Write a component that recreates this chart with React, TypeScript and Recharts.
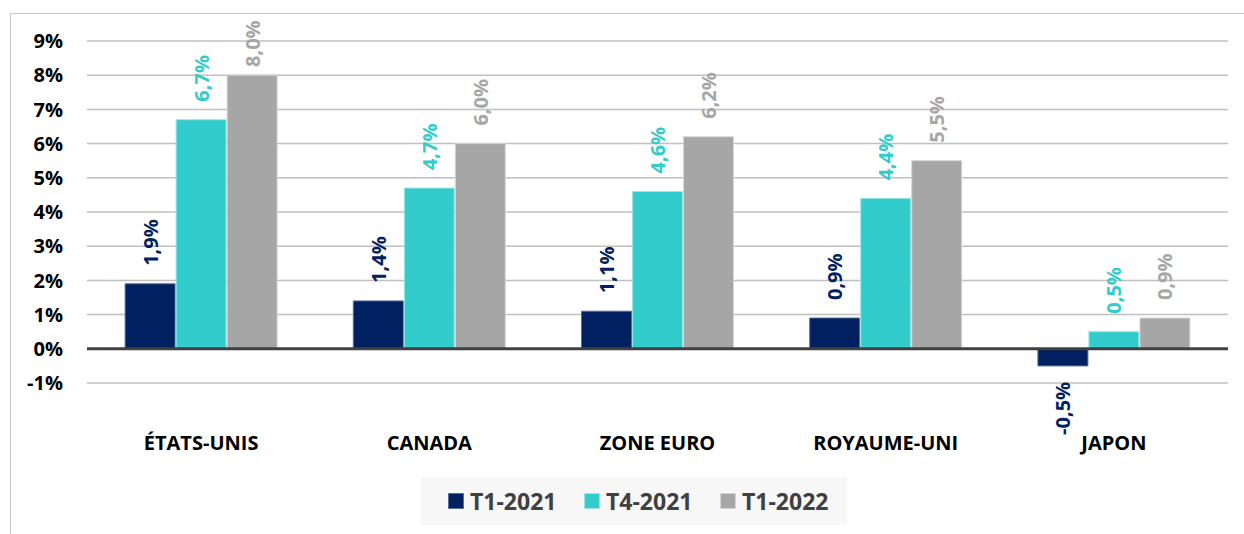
import React from "react";
import { BarChart, Bar, XAxis, YAxis, CartesianGrid, Legend, ReferenceLine } from "recharts";

const pays = ["ÉTATS-UNIS", "CANADA", "ZONE EURO", "ROYAUME-UNI", "JAPON"];
const t1_2021 = [1.9, 1.4, 1.1, 0.9, -0.5];
const t4_2021 = [6.7, 4.7, 4.6, 4.4, 0.5];
const t1_2022 = [8.0, 6.0, 6.2, 5.5, 0.9];
const yTicks = [-1, 0, 1, 2, 3, 4, 5, 6, 7, 8, 9];

const series = [
  { key: "T1-2021", values: t1_2021, fill: "#002060", stroke: "#5a6d96" },
  { key: "T4-2021", values: t4_2021, fill: "#33CCCC", stroke: "#9ee6e6" },
  { key: "T1-2022", values: t1_2022, fill: "#A6A6A6", stroke: "#d6d6d6" },
];

const data = pays.map((p, i) => {
  const row: any = { name: p };
  series.forEach((s) => (row[s.key] = s.values[i]));
  return row;
});

const FONT = "'Open Sans', 'Noto Sans', sans-serif";

const fmt = (v: number) => v.toFixed(1).replace(".", ",") + "%";

function makeLabel(color: string) {
  return (props: any) => {
    const { x, y, width, height, value } = props;
    const cx = Number(x) + Number(width) / 2;
    const top = Math.min(Number(y), Number(y) + Number(height));
    const bottom = Math.max(Number(y), Number(y) + Number(height));
    const neg = Number(value) < 0;
    // keep labels of tall bars inside the frame, like the original
    const ay = neg ? bottom + 16 : Math.max(top - 18, 67);
    return (
      <text
        x={cx}
        y={ay}
        transform={`rotate(-90 ${cx} ${ay})`}
        textAnchor={neg ? "end" : "start"}
        dominantBaseline="central"
        fill={color}
        fontFamily={FONT}
        fontWeight={700}
        fontSize={20}
      >
        {fmt(Number(value))}
      </text>
    );
  };
}

// left offsets of each legend item inside the grey box
const legendOffsets = [27, 163, 299];

function LegendBox() {
  return (
    <div
      style={{
        position: "relative",
        width: 426,
        height: 48,
        background: "#f7f7f7",
        fontFamily: FONT,
        fontWeight: 700,
        fontSize: 23,
        color: "#404040",
        whiteSpace: "nowrap",
      }}
    >
      {series.map((s, i) => (
        <div
          key={s.key}
          style={{
            position: "absolute",
            left: legendOffsets[i],
            top: 0,
            height: 48,
            display: "flex",
            alignItems: "center",
          }}
        >
          <span
            style={{
              display: "inline-block",
              width: 14,
              height: 14,
              background: s.fill,
              border: `1px solid ${s.stroke}`,
              marginRight: 6,
            }}
          />
          <span>{s.key}</span>
        </div>
      ))}
    </div>
  );
}

export default function App() {
  return (
    <div style={{ position: "absolute", left: 0, top: 0, width: 1244, height: 534, background: "#fff", overflow: "hidden" }}>
      <div
        style={{
          position: "absolute",
          left: 10,
          top: 13,
          width: 1300,
          height: 600,
          borderLeft: "1px solid #c8c8c8",
          borderTop: "1px solid #c8c8c8",
        }}
      />
      <div style={{ position: "absolute", left: 0, top: 0 }}>
        <BarChart
          width={1244}
          height={534}
          data={data}
          margin={{ top: 41, right: 16, left: 0, bottom: 9 }}
          barCategoryGap="16.7%"
          barGap={1}
        >
          <CartesianGrid vertical={false} stroke="#c0c0c0" strokeWidth={1.5} />
          <XAxis
            dataKey="name"
            axisLine={false}
            tickLine={false}
            tickSize={0}
            tickMargin={53}
            height={94}
            interval={0}
            tick={{ fill: "#000", fontFamily: FONT, fontWeight: 700, fontSize: 20 }}
          />
          <YAxis
            domain={[-1, 9]}
            ticks={yTicks}
            width={87}
            axisLine={false}
            tickLine={false}
            tickSize={0}
            tickMargin={24}
            tickFormatter={(v: number) => `${v}%`}
            tick={{ fill: "#000", fontFamily: FONT, fontWeight: 700, fontSize: 20 }}
          />
          <ReferenceLine y={0} stroke="#404040" strokeWidth={3} />
          {series.map((s) => (
            <Bar
              key={s.key}
              dataKey={s.key}
              fill={s.fill}
              stroke={s.stroke}
              strokeWidth={1}
              isAnimationActive={false}
              label={makeLabel(s.fill)}
            />
          ))}
          <Legend
            verticalAlign="bottom"
            content={() => <LegendBox />}
            wrapperStyle={{ left: 421, width: 426 }}
          />
        </BarChart>
      </div>
    </div>
  );
}
